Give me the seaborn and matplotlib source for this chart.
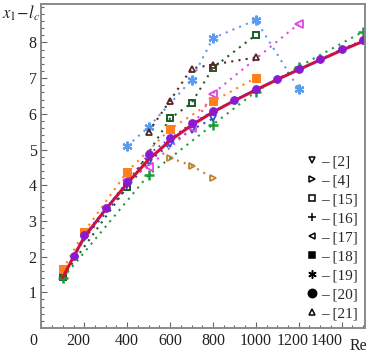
import pandas as pd
import matplotlib
matplotlib.use("Agg")
import matplotlib.pyplot as plt
import matplotlib.transforms as mtransforms
from matplotlib.lines import Line2D
from matplotlib.ticker import MultipleLocator
import seaborn as sns

# data
re_2 = [100, 200, 500, 600, 700, 800]
y_2 = [1.42, 2.51, 4.66, 5.15, 5.55, 5.87]

re_4 = [600, 700, 800]
y_4 = [4.77, 4.55, 4.20]

re_15 = [100, 400, 600, 700, 800, 1000]
y_15 = [1.44, 3.96, 5.87, 6.30, 7.29, 8.21]

re_16 = [100, 500, 800, 1000, 1200, 1500]
y_16 = [1.40, 4.29, 5.70, 6.62, 7.32, 8.30]

re_17 = [400, 500, 700, 800, 1200]
y_17 = [4.15, 4.52, 5.59, 6.57, 8.52]

re_18 = [100, 200, 400, 600, 800, 1000]
y_18 = [1.64, 2.70, 4.38, 5.57, 6.35, 7.01]

re_19 = [400, 500, 700, 800, 1000, 1200]
y_19 = [5.10, 5.63, 6.95, 8.12, 8.63, 6.70]

re_20 = [150, 200, 300, 400, 500, 600, 700, 800, 900, 1000, 1100, 1200, 1300, 1400, 1500]
y_20 = [2.03, 2.60, 3.35, 4.10, 4.87, 5.31, 5.73, 6.07, 6.38, 6.69, 6.97, 7.25, 7.53, 7.81, 8.07]

re_21 = [500, 600, 700, 800, 1000]
y_21 = [5.50, 6.37, 7.27, 7.38, 7.58]

re_fit = [100, 150, 200, 300, 400, 500, 600, 700, 800, 900, 1000, 1100, 1200, 1300, 1400, 1500]
y_fit = [1.42, 2.00, 2.55, 3.33, 4.05, 4.72, 5.25, 5.68, 6.05, 6.37, 6.67, 6.96, 7.24, 7.51, 7.78, 8.03]

refs = ["[2]", "[4]", "[15]", "[16]", "[17]", "[18]", "[19]", "[20]", "[21]"]

sns.set_style("ticks")
plt.rcParams["font.family"] = ["Liberation Serif", "DejaVu Serif"]
plt.rcParams["mathtext.fontset"] = "stix"

fig = plt.figure(figsize=(3.7, 3.55), dpi=100)
ax = fig.add_axes([0.112, 0.076, 0.875, 0.913])

dot = (0, (1, 2.5))
series = [
    (re_2, y_2, "#2b4fd6", "v", dict(mfc="none", ms=4.5, mew=1.3)),
    (re_4, y_4, "#c8812e", ">", dict(mfc="none", ms=4.5, mew=1.3)),
    (re_15, y_15, "#1f5a2c", "s", dict(mfc="none", ms=4.5, mew=1.4)),
    (re_16, y_16, "#1e9a3c", "+", dict(ms=7, mew=1.8)),
    (re_17, y_17, "#e046e6", "<", dict(mfc="none", ms=5.5, mew=1.3)),
    (re_18, y_18, "#ff7f1e", "s", dict(ms=5.5)),
    (re_19, y_19, "#5a9cee", (6, 2, 0), dict(ms=7, mew=1.6)),
    (re_21, y_21, "#5a2424", "^", dict(mfc="none", ms=4.5, mew=1.3)),
]
for x, y, c, m, kw in series:
    df = pd.DataFrame({"Re": x, "L": y})
    sns.lineplot(data=df, x="Re", y="L", ax=ax, color=c, marker=m, linestyle=dot,
                 lw=1.5, estimator=None, sort=False, mec=c, **kw)

fit = pd.DataFrame({"Re": re_fit, "L": y_fit})
sns.lineplot(data=fit, x="Re", y="L", ax=ax, color="#d0122e", lw=2.2,
             estimator=None, sort=False)

p20 = pd.DataFrame({"Re": re_20, "L": y_20})
sns.lineplot(data=p20, x="Re", y="L", ax=ax, color="#8a1ad2", marker="o", ms=5.5,
             mec="#8a1ad2", linestyle=dot, lw=1.3, estimator=None, sort=False)

ax.set_xlim(0, 1510)
ax.set_ylim(0, 9.08)
ax.set_xlabel("")
ax.set_ylabel("")
ax.set_xticks(range(0, 1401, 200))
ax.set_yticks(range(1, 9))
ax.xaxis.set_minor_locator(MultipleLocator(50))
ax.yaxis.set_minor_locator(MultipleLocator(0.2))
ax.tick_params(which="both", direction="in", top=False, right=False, colors="#666666",
               labelcolor="#222222", labelsize=11.5, width=0.8)
ax.tick_params(which="major", length=4)
ax.tick_params(which="minor", length=2)

# labels in the reference drift left toward the right end, leaving room for "Re"
shifts = {0: -8, 200: -6, 400: 0, 600: 0, 800: 0, 1000: 0, 1200: -6, 1400: -15}
for val, lab in zip(range(0, 1401, 200), ax.get_xticklabels()):
    dx = shifts[val]
    lab.set_transform(lab.get_transform() + mtransforms.ScaledTranslation(dx / 100, 0, fig.dpi_scale_trans))
for s in ax.spines.values():
    s.set_color("#8a8a8a")
    s.set_linewidth(1.4)

fig.text(0.005, 0.948, r"$x_1\!-\!l_c$", fontsize=12, color="#222222")
fig.text(0.945, 0.015, "Re", fontsize=11.5, color="#222222")

mk = ["v", ">", "s", "+", "<", "s", (6, 2, 0), "o", "^"]
filled = [False, False, False, True, False, True, True, True, False]
sizes = [5, 5, 5, 6, 5, 5, 6, 6, 5]
handles = []
for m, f, s in zip(mk, filled, sizes):
    handles.append(Line2D([], [], linestyle="none", marker=m, color="black",
                          mfc="black" if f else "none", ms=s, mew=1.1))
ax.legend(handles, ["\u2013 " + r for r in refs], loc="lower right", frameon=False,
          fontsize=11, handlelength=0.6, handletextpad=0.3, labelspacing=0.35,
          borderaxespad=0.1, bbox_to_anchor=(1.0, 0.0))

fig.savefig("out.png", dpi=100)
